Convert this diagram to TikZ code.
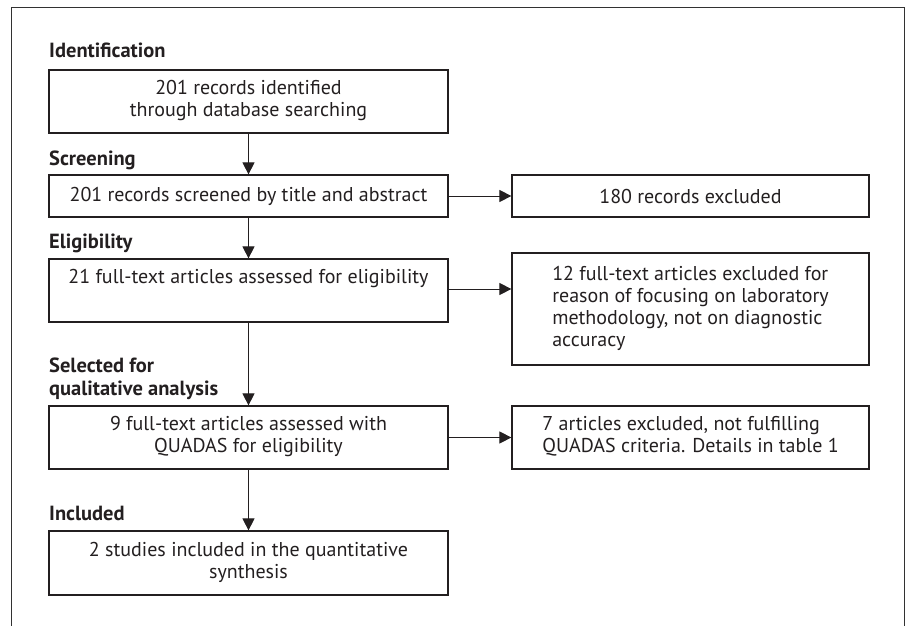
\documentclass[tikz,border=0pt]{standalone}
\usepackage{fontspec}
\setmainfont{PT Sans}
\usetikzlibrary{arrows.meta}
\definecolor{ink}{RGB}{35,31,32}
\definecolor{frame}{RGB}{50,50,50}
\begin{document}
\begin{tikzpicture}[x=1pt,y=-1pt,
  box/.style={draw=ink, line width=1.2pt, rectangle, inner sep=0pt, text=ink,
    font=\fontsize{20}{22}\selectfont, align=center},
  stagelabel/.style={anchor=base west, inner sep=0pt, text=ink,
    font=\fontsize{20.5}{23}\selectfont\bfseries, align=left},
  flow/.style={draw=ink, line width=0.9pt, -{Triangle[length=12pt,width=12pt]}}]
\useasboundingbox (0,0) rectangle (906,626);
% outer frame (open at the bottom)
\draw[frame, line width=0.9pt] (11.5,626) -- (11.5,7.5) -- (904.5,7.5) -- (904.5,626);
% stage labels
\node[stagelabel] (lid) at (49,58) {Identification};
\node[stagelabel] (lsc) at (49,165) {Screening};
\node[stagelabel] (lel) at (49,248) {Eligibility};
\node[stagelabel] (lse) at (49,395) {Selected for\\qualitative analysis};
\node[stagelabel] (lin) at (49,520) {Included};
% main column
\node[box, minimum width=399, minimum height=63] (b1) at (248.5,101.5)
  {\strut 201 records identified\\\strut through database searching};
\node[box, minimum width=399, minimum height=42] (b2) at (248.5,196)
  {201 records screened by title and abstract};
\node[box, minimum width=399, minimum height=63] (b3) at (248.5,290.5)
  {\strut 21 full-text articles assessed for eligibility\\\strut};
\node[box, minimum width=399, minimum height=63] (b4) at (248.5,437.5)
  {\strut 9 full-text articles assessed with\\\strut QUADAS for eligibility};
\node[box, minimum width=399, minimum height=64] (b5) at (248.5,563)
  {\strut 2 studies included in the quantitative\\\strut synthesis};
% exclusion column
\node[box, minimum width=357, minimum height=42] (r1) at (690.5,196)
  {180 records excluded};
\node[box, minimum width=357, minimum height=112, align=left] (r2) at (690.5,309)
  {\strut 12 full-text articles excluded for\\\strut reason of focusing on laboratory\\\strut methodology, not on diagnostic\\\strut accuracy};
\node[box, minimum width=357, minimum height=63, align=left] (r3) at (690.5,437.5)
  {\strut 7 articles excluded, not fulfilling\\\strut QUADAS criteria. Details in table 1};
% connectors
\draw[flow] (b1.south) -- (b2.north);
\draw[flow] (b2.south) -- (b3.north);
\draw[flow] (b3.south) -- (b4.north);
\draw[flow] (b4.south) -- (b5.north);
\draw[flow] (b2.east) -- (r1.west);
\draw[flow] ([yshift=1.5]b3.east) -- ([yshift=1.5]b3.east -| r2.west);
\draw[flow] (b4.east) -- (r3.west);
\end{tikzpicture}
\end{document}
